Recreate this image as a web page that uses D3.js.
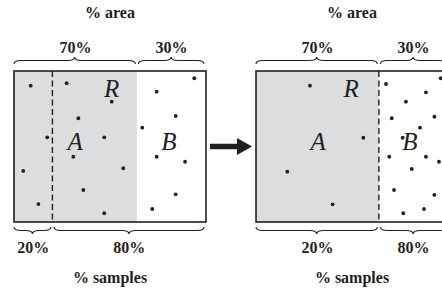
<!DOCTYPE html>
<html>
<head>
<meta charset="utf-8">
<script src="https://cdn.jsdelivr.net/npm/d3@7"></script>
<style>
  body { margin: 0; background: #fff; }
  svg { display: block; }
</style>
</head>
<body>
<div id="chart"></div>
<script>
// two panels: before / after moving the sampling boundary
const panelNames = ["before", "after"];
const areaLabels = ["70%", "30%"];
const sampleLabels = ["20%", "80%"];
// where the grey region R ends and where the dashed sample split sits (0..100 of panel width)
const regionEdge = [64, 64];
const sampleEdge = [20, 64];

// dots in panel units (0..100 across, 0..100 down)
const dotsBefore = [
    [8.7, 9.7], [27.4, 8.1], [50.9, 20.3], [33.5, 31.3], [17.3, 43.9], [47.0, 43.9],
    [30.9, 56.8], [4.8, 66.2], [56.9, 64.4], [36.1, 78.8], [12.7, 88.1], [47.0, 94.2],
    [93.9, 4.8], [74.3, 13.7], [84.2, 29.8], [66.8, 37.5], [74.3, 56.8], [89.1, 60.1],
    [84.2, 81.7], [72.0, 91.4]
];
const dotsAfter = [
    [28.1, 9.7], [55.9, 44.2], [16.3, 66.7], [39.9, 88.3],
    [67.7, 8.6], [96.2, 4.8], [88.5, 14.1], [78.1, 20.3], [70.7, 31.3], [92.9, 30.3],
    [85.4, 37.5], [76.4, 44.2], [69.4, 56.8], [88.5, 56.8], [95.3, 60.1], [81.1, 64.9],
    [71.9, 78.8], [92.9, 82.1], [87.5, 91.4], [76.7, 94.2]
];
const dotSets = [dotsBefore, dotsAfter];

// region letters: [letter, x, baseline] in panel units
const lettersBefore = [["R", 50.9, 17.2], ["A", 31.8, 52.3], ["B", 80.7, 52.3]];
const lettersAfter = [["R", 49.6, 17.4], ["A", 32.3, 52.3], ["B", 80.1, 52.3]];
const letterSets = [lettersBefore, lettersAfter];

const width = 442, height = 292;
const ink = "#231f20";
const grey = "#dcdddf";
const panelX = d3.scaleOrdinal().domain(panelNames).range([14, 256]);
const panelW = 192, panelTop = 71, panelH = 151;

const svg = d3.select("#chart").append("svg")
    .attr("width", width)
    .attr("height", height);

// curly brace between x1 and x2, ends at y, tip pointing by dir (-1 up, 1 down)
let bracePath = (x1, x2, y, dir) => {
    let h = 7, r = 7;
    let m = (x1 + x2) / 2;
    let yh = y + dir * h / 2, yt = y + dir * h;
    return "M" + x1 + "," + y +
        "Q" + x1 + "," + yh + " " + (x1 + r) + "," + yh +
        "L" + (m - r) + "," + yh +
        "Q" + m + "," + yh + " " + m + "," + yt +
        "Q" + m + "," + yh + " " + (m + r) + "," + yh +
        "L" + (x2 - r) + "," + yh +
        "Q" + x2 + "," + yh + " " + x2 + "," + y;
}

let labelStyle = (sel) => sel
    .attr("text-anchor", "middle")
    .style("font-family", "'Liberation Serif', 'Times New Roman', serif")
    .style("font-weight", "bold")
    .style("font-size", "16px")
    .style("fill", ink);

panelNames.forEach((name, i) => {
    let x0 = panelX(name);
    let x = d3.scaleLinear().domain([0, 100]).range([x0, x0 + panelW]);
    let y = d3.scaleLinear().domain([0, 100]).range([panelTop, panelTop + panelH]);
    let g = svg.append("g");

    // grey region R
    g.append("rect")
        .attr("x", x(0)).attr("y", y(0))
        .attr("width", x(regionEdge[i]) - x(0))
        .attr("height", y(100) - y(0))
        .attr("fill", grey);

    // dashed sample split
    g.append("line")
        .attr("x1", x(sampleEdge[i])).attr("x2", x(sampleEdge[i]))
        .attr("y1", y(0)).attr("y2", y(100))
        .attr("stroke", ink)
        .attr("stroke-width", 1.4)
        .attr("stroke-dasharray", "6,3.5");

    // frame
    g.append("rect")
        .attr("x", x(0)).attr("y", y(0))
        .attr("width", x(100) - x(0))
        .attr("height", y(100) - y(0))
        .attr("fill", "none")
        .attr("stroke", ink)
        .attr("stroke-width", 1.6);

    // dots
    g.selectAll("circle")
        .data(dotSets[i])
        .enter()
        .append("circle")
        .attr("cx", d => x(d[0]))
        .attr("cy", d => y(d[1]))
        .attr("r", 1.9)
        .attr("fill", ink);

    // letters
    g.selectAll("text.letter")
        .data(letterSets[i])
        .enter()
        .append("text")
        .attr("class", "letter")
        .attr("x", d => x(d[1]))
        .attr("y", d => y(d[2]))
        .attr("text-anchor", "middle")
        .style("font-family", "'Liberation Serif', 'Times New Roman', serif")
        .style("font-style", "italic")
        .style("font-size", "25px")
        .style("fill", ink)
        .text(d => d[0]);

    // top braces (% area)
    let areaSegs = [[0, regionEdge[i]], [regionEdge[i], 100]];
    areaSegs.forEach((s, j) => {
        g.append("path")
            .attr("d", bracePath(x(s[0]) + (j ? 1.5 : 0), x(s[1]) - (j ? 2 : 1.5), 64, -1))
            .attr("fill", "none")
            .attr("stroke", ink)
            .attr("stroke-width", 1.1);
        g.append("text")
            .attr("x", (x(s[0]) + x(s[1])) / 2)
            .attr("y", 53)
            .call(labelStyle)
            .text(areaLabels[j]);
    });

    // bottom braces (% samples)
    let sampleSegs = [[0, sampleEdge[i]], [sampleEdge[i], 100]];
    sampleSegs.forEach((s, j) => {
        g.append("path")
            .attr("d", bracePath(x(s[0]) + (j ? 1.5 : 0), x(s[1]) - (j ? 2 : 1.5), 227, 1))
            .attr("fill", "none")
            .attr("stroke", ink)
            .attr("stroke-width", 1.1);
        g.append("text")
            .attr("x", (x(s[0]) + x(s[1])) / 2)
            .attr("y", 253)
            .call(labelStyle)
            .text(sampleLabels[j]);
    });

    g.append("text")
        .attr("x", x(50)).attr("y", 18)
        .call(labelStyle)
        .text("% area");
    g.append("text")
        .attr("x", x(50)).attr("y", 283)
        .call(labelStyle)
        .text("% samples");
});

// arrow between panels
let ay = panelTop + panelH / 2;
svg.append("path")
    .attr("d", "M210," + (ay - 2.8) + "L237," + (ay - 2.8) + "L237," + (ay - 8.5) +
        "L252," + ay + "L237," + (ay + 8.5) + "L237," + (ay + 2.8) + "L210," + (ay + 2.8) + "Z")
    .attr("fill", ink);
</script>
</body>
</html>
